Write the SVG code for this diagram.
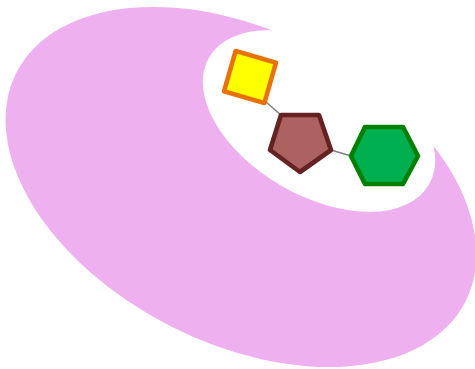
<svg xmlns="http://www.w3.org/2000/svg" width="475" height="369" viewBox="0 0 475 369">
<style>
.edge{stroke:#808080;stroke-width:1.6;fill:none}
.node{stroke-width:4.6;stroke-linejoin:round}
</style>
<rect width="475" height="369" fill="#ffffff"/>
<g id="background">
<ellipse cx="241" cy="187" rx="252" ry="156" transform="rotate(27 241 187)" fill="#eeb0ee"/>
<ellipse cx="319" cy="121" rx="127" ry="75" transform="rotate(30 319 121)" fill="#ffffff"/>
</g>
<g id="connectors">
<line class="edge" x1="266" y1="102" x2="281" y2="115"/>
<line class="edge" x1="331" y1="150" x2="351" y2="156"/>
</g>
<g id="square">
<rect class="node" x="229" y="56" width="42" height="42" transform="rotate(16 250 77)" fill="#ffff00" stroke="#e8710a"/>
</g>
<g id="pentagon">
<polygon class="node" points="281,115 319,115 331,150 300,172 270,150" fill="#ad6262" stroke="#652222"/>
</g>
<g id="hexagon">
<polygon class="node" points="365,127 403,127 418,156 403,184 365,184 351,156" fill="#00b050" stroke="#008000"/>
</g>
</svg>
